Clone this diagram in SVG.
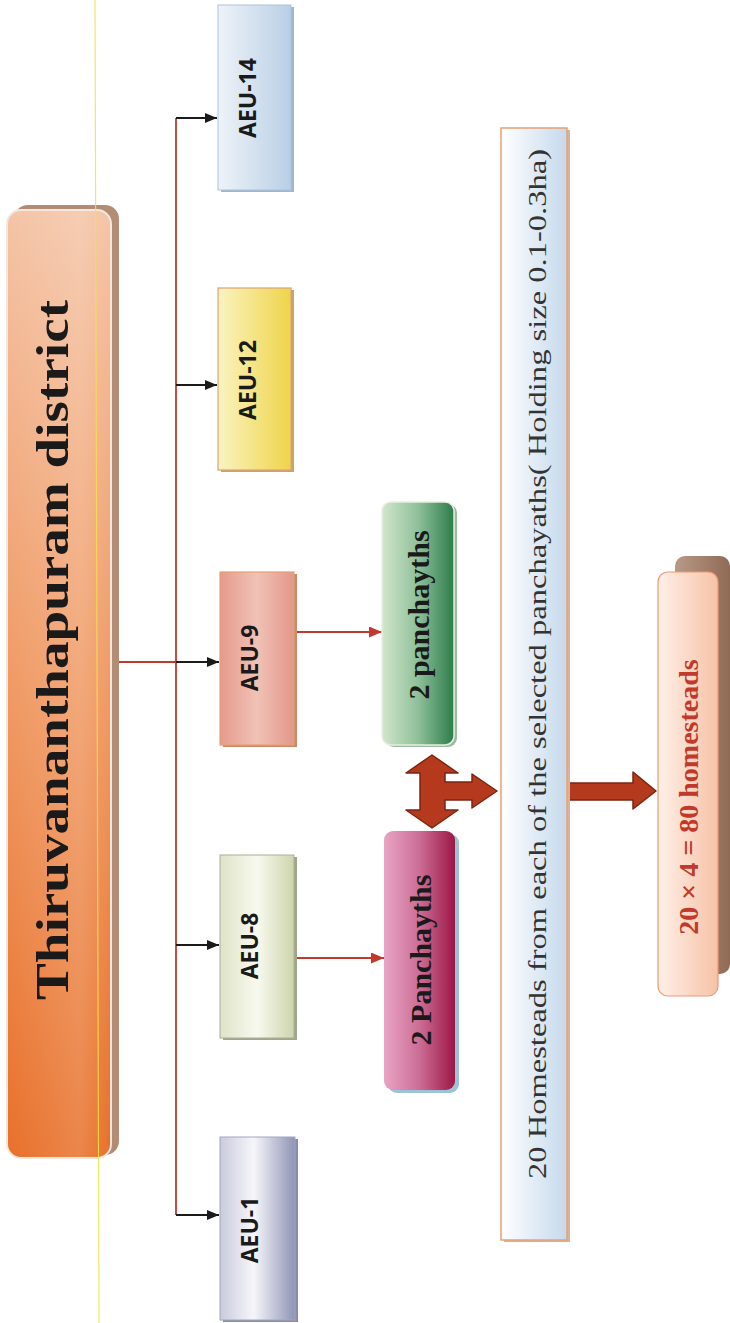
<svg xmlns="http://www.w3.org/2000/svg" width="730" height="1323" viewBox="0 0 730 1323">
<style>
.aeu{font-family:"Open Sans","DejaVu Sans",sans-serif;font-weight:bold;font-size:23px;fill:#1a1a1a;text-anchor:middle}
.pan{font-family:"Liberation Serif","DejaVu Serif",serif;font-weight:bold;font-size:30px;fill:#1a1a1a;text-anchor:middle}
.title{font-family:"Liberation Serif","DejaVu Serif",serif;font-weight:bold;font-size:46px;fill:#1a1a1a;text-anchor:middle}
.long{font-family:"Liberation Serif","DejaVu Serif",serif;font-size:26px;fill:#333;text-anchor:middle}
.res{font-family:"Liberation Serif","DejaVu Serif",serif;font-weight:bold;font-size:28px;fill:#c0392b;text-anchor:middle}
.blk{stroke:#1a1a1a;stroke-width:1.8;fill:none}
.red{stroke:#c0392b;stroke-width:1.8;fill:none}
.big{fill:#b53a1d;stroke:#7c2410;stroke-width:1.5;stroke-linejoin:round}
</style>
<defs>
<marker id="ab" viewBox="0 0 12 10" refX="12" refY="5" markerWidth="12" markerHeight="10" markerUnits="userSpaceOnUse" orient="auto"><path d="M0,0 L12,5 L0,10 z" fill="#1a1a1a"/></marker>
<marker id="ar" viewBox="0 0 13 11" refX="13" refY="5.5" markerWidth="13" markerHeight="11" markerUnits="userSpaceOnUse" orient="auto"><path d="M0,0 L13,5.5 L0,11 z" fill="#c0392b"/></marker>
<linearGradient id="gMain" x1="0" y1="0" x2="0" y2="1"><stop offset="0" stop-color="#f4c4a6"/><stop offset="0.5" stop-color="#f09a64"/><stop offset="1" stop-color="#e8702a"/></linearGradient>
<linearGradient id="gMainH" x1="0" y1="0" x2="1" y2="0"><stop offset="0" stop-color="#ffffff" stop-opacity="0"/><stop offset="0.7" stop-color="#ffffff" stop-opacity="0.15"/><stop offset="1" stop-color="#ffffff" stop-opacity="0"/></linearGradient>
<linearGradient id="g14" x1="0" y1="0" x2="1" y2="0"><stop offset="0" stop-color="#eef3f8"/><stop offset="1" stop-color="#b9cfe6"/></linearGradient>
<linearGradient id="g12" x1="0" y1="0" x2="1" y2="0"><stop offset="0" stop-color="#faf3c0"/><stop offset="1" stop-color="#efd44a"/></linearGradient>
<linearGradient id="g9" x1="0" y1="0" x2="1" y2="0"><stop offset="0" stop-color="#e59a8c"/><stop offset="0.5" stop-color="#f1c2b6"/><stop offset="1" stop-color="#e3978a"/></linearGradient>
<linearGradient id="g8" x1="0" y1="0" x2="1" y2="0"><stop offset="0" stop-color="#dfe3c8"/><stop offset="0.5" stop-color="#f8f9ee"/><stop offset="1" stop-color="#cdd5ad"/></linearGradient>
<linearGradient id="g1" x1="0" y1="0" x2="1" y2="0"><stop offset="0" stop-color="#c9cbdc"/><stop offset="0.45" stop-color="#f6f6fa"/><stop offset="1" stop-color="#8f94b6"/></linearGradient>
<linearGradient id="gGreen" x1="0" y1="0" x2="1" y2="0"><stop offset="0" stop-color="#d2e6cc"/><stop offset="0.5" stop-color="#8fc09a"/><stop offset="1" stop-color="#2d7c4a"/></linearGradient>
<linearGradient id="gMag" x1="0" y1="0" x2="1" y2="0"><stop offset="0" stop-color="#e8a5c4"/><stop offset="0.5" stop-color="#cc6d96"/><stop offset="1" stop-color="#9c1746"/></linearGradient>
<linearGradient id="gLong" x1="0" y1="0" x2="1" y2="0"><stop offset="0" stop-color="#ffffff"/><stop offset="1" stop-color="#c5d9ec"/></linearGradient>
<linearGradient id="gRes" x1="0" y1="0" x2="1" y2="0"><stop offset="0" stop-color="#fff0e8"/><stop offset="1" stop-color="#f6c2a6"/></linearGradient>
<linearGradient id="gResSh" x1="0" y1="0" x2="1" y2="0"><stop offset="0" stop-color="#b99a86"/><stop offset="1" stop-color="#8f6a55"/></linearGradient>
</defs>

<g id="connectors">
<path class="red" d="M118,662 H176 M176,118 V1215"/>
<path class="blk" d="M176,118 H217" marker-end="url(#ab)"/>
<path class="blk" d="M176,385 H217" marker-end="url(#ab)"/>
<path class="blk" d="M176,662 H219" marker-end="url(#ab)"/>
<path class="blk" d="M176,945 H219" marker-end="url(#ab)"/>
<path class="blk" d="M176,1215 H219" marker-end="url(#ab)"/>
<path class="red" d="M295,632 H382" marker-end="url(#ar)"/>
<path class="red" d="M296,958 H384" marker-end="url(#ar)"/>
<polygon class="big" points="432,755 458,773 445,773 445,782 472,782 472,774 497,791 472,808 472,800 445,800 445,810 458,810 432,828 406,810 420,810 420,773 406,773"/>
<polygon class="big" points="566,783 633,783 633,772 656,791 633,809 633,800 566,800"/>
</g>

<g id="district">
<rect x="14" y="205" width="105" height="950" rx="14" fill="#b38d73"/>
<rect x="7" y="210" width="104" height="948" rx="14" fill="url(#gMain)" stroke="#f3e6df" stroke-width="2"/>
<rect x="7" y="210" width="104" height="948" rx="14" fill="url(#gMainH)"/>
<text class="title" transform="translate(68,650) rotate(-90)" x="0" y="0" textLength="700" lengthAdjust="spacingAndGlyphs">Thiruvananthapuram district</text>
</g>

<g id="aeu14">
<rect x="221" y="7" width="73" height="185" fill="#9fb6cc"/>
<rect x="218" y="5" width="73" height="185" fill="url(#g14)" stroke="#a9c4dc" stroke-width="1"/>
<text class="aeu" transform="translate(256,98) rotate(-90)">AEU-14</text>
</g>
<g id="aeu12">
<rect x="221" y="290" width="73" height="182" fill="#c9a36a"/>
<rect x="218" y="288" width="73" height="182" fill="url(#g12)" stroke="#d9a37a" stroke-width="1.2"/>
<text class="aeu" transform="translate(256,380) rotate(-90)">AEU-12</text>
</g>
<g id="aeu9">
<rect x="223" y="574" width="74" height="173" fill="#c98a6a"/>
<rect x="220" y="572" width="74" height="173" fill="url(#g9)" stroke="#e4a074" stroke-width="1.2"/>
<text class="aeu" transform="translate(258,658) rotate(-90)">AEU-9</text>
</g>
<g id="aeu8">
<rect x="223" y="857" width="74" height="183" fill="#9fa68c"/>
<rect x="220" y="855" width="74" height="183" fill="url(#g8)" stroke="#a9b093" stroke-width="1"/>
<text class="aeu" transform="translate(258,946) rotate(-90)">AEU-8</text>
</g>
<g id="aeu1">
<rect x="223" y="1139" width="75" height="183" fill="#8a8ea8"/>
<rect x="220" y="1137" width="75" height="183" fill="url(#g1)" stroke="#a3a6bf" stroke-width="1"/>
<text class="aeu" transform="translate(258,1230) rotate(-90)">AEU-1</text>
</g>

<g id="pan9">
<rect x="385" y="504" width="72" height="243" rx="9" fill="#9dbb9d"/>
<rect x="382" y="502" width="72" height="243" rx="9" fill="url(#gGreen)" stroke="#e6efe0" stroke-width="1.5"/>
<text class="pan" transform="translate(429,615) rotate(-90)">2 panchayths</text>
</g>
<g id="pan8">
<rect x="388" y="834" width="71" height="259" rx="9" fill="#9cc3d8"/>
<rect x="384" y="831" width="71" height="259" rx="9" fill="url(#gMag)"/>
<text class="pan" transform="translate(431,960) rotate(-90)">2 Panchayths</text>
</g>

<g id="homesteads">
<rect x="504" y="130" width="66" height="1112" fill="#d6b49c"/>
<rect x="501" y="128" width="66" height="1112" fill="url(#gLong)" stroke="#e8a074" stroke-width="1.5"/>
<text class="long" transform="translate(546,664) rotate(-90)" textLength="1030" lengthAdjust="spacingAndGlyphs">20 Homesteads from each of the selected panchayaths( Holding size 0.1-0.3ha)</text>
</g>

<g id="result">
<rect x="675" y="556" width="55" height="418" rx="10" fill="url(#gResSh)"/>
<rect x="658" y="572" width="60" height="424" rx="10" fill="url(#gRes)" stroke="#eb9a78" stroke-width="1.2"/>
<text class="res" transform="translate(698,797) rotate(-90)">20 × 4 = 80 homesteads</text>
</g>

<line x1="95" y1="0" x2="99" y2="1323" stroke="#f2e24a" stroke-width="1.2" opacity="0.85"/>
</svg>
